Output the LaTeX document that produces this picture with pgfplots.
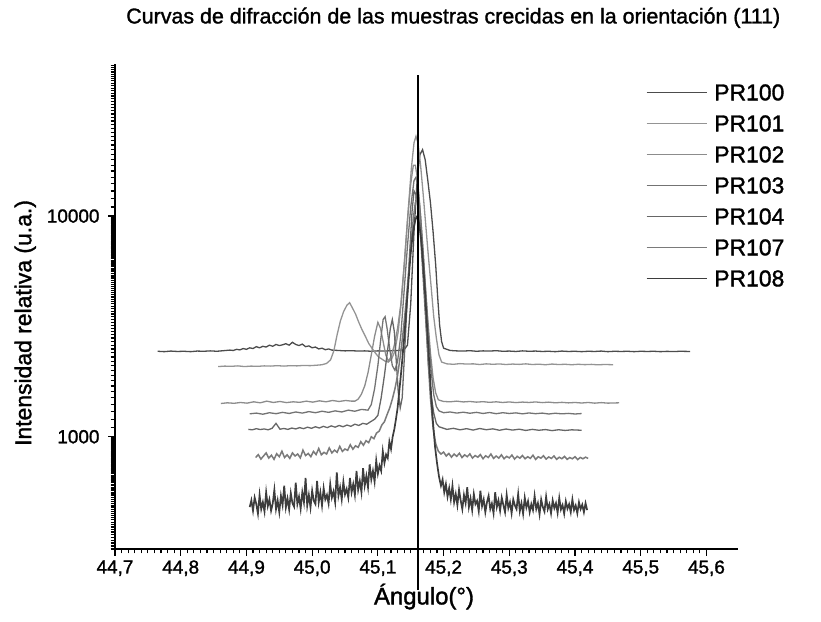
\documentclass[border=0pt]{standalone}
\usepackage{fontspec}
\setmainfont{Liberation Sans}[FakeBold=1.4]
\usepackage{pgfplots}
\usepackage{pgfplotstable}
\pgfplotsset{compat=1.18}

% Rocking curves, (111) oriented samples
\pgfplotstableread{
x y
44.765 2440
44.775 2430
44.785 2445
44.795 2435
44.805 2440
44.815 2430
44.825 2445
44.835 2440
44.845 2450
44.855 2440
44.865 2455
44.875 2470
44.880 2460
44.885 2490
44.890 2475
44.895 2510
44.900 2490
44.905 2530
44.910 2510
44.915 2560
44.920 2530
44.925 2570
44.930 2550
44.935 2600
44.940 2570
44.945 2620
44.950 2590
44.955 2610
44.960 2640
44.965 2600
44.970 2680
44.975 2620
44.980 2590
44.985 2630
44.990 2560
44.995 2580
45.000 2530
45.005 2550
45.010 2500
45.015 2520
45.020 2480
45.025 2500
45.030 2470
45.040 2460
45.050 2450
45.060 2455
45.070 2445
45.080 2450
45.090 2440
45.100 2450
45.110 2445
45.120 2455
45.130 2460
45.140 2480
45.145 2600
45.150 4000
45.155 8500
45.160 15000
45.164 19000
45.168 20000
45.172 18000
45.176 14500
45.180 11500
45.184 8500
45.188 6000
45.191 4300
45.194 3200
45.197 2700
45.200 2520
45.210 2460
45.220 2450
45.230 2445
45.240 2455
45.250 2440
45.260 2450
45.270 2445
45.280 2455
45.290 2440
45.300 2445
45.310 2435
45.320 2450
45.330 2440
45.340 2445
45.350 2435
45.360 2440
45.370 2430
45.380 2445
45.390 2435
45.400 2440
45.410 2430
45.420 2440
45.430 2435
45.440 2445
45.450 2430
45.460 2440
45.470 2435
45.480 2440
45.490 2430
45.500 2440
45.510 2435
45.520 2440
45.530 2430
45.540 2438
45.550 2432
45.560 2440
45.575 2435
}\prA

\pgfplotstableread{
x y
44.857 2080
44.867 2090
44.877 2085
44.887 2095
44.897 2080
44.907 2090
44.917 2085
44.927 2095
44.937 2090
44.947 2100
44.957 2090
44.967 2100
44.977 2095
44.987 2105
44.997 2100
45.007 2110
45.015 2120
45.022 2150
45.028 2230
45.033 2450
45.038 2900
45.043 3350
45.048 3700
45.053 3950
45.057 4050
45.061 3850
45.066 3600
45.071 3300
45.076 3050
45.081 2850
45.086 2650
45.091 2520
45.096 2400
45.101 2300
45.106 2250
45.111 2200
45.116 2180
45.121 2250
45.126 2450
45.131 3000
45.136 4200
45.141 6500
45.146 10500
45.151 16500
45.155 21500
45.158 23000
45.161 21500
45.165 17000
45.169 12500
45.173 9000
45.177 6500
45.181 4800
45.185 3500
45.189 2800
45.193 2350
45.197 2180
45.205 2140
45.215 2130
45.225 2145
45.235 2135
45.245 2140
45.255 2125
45.265 2140
45.275 2130
45.285 2138
45.295 2125
45.305 2135
45.315 2128
45.325 2140
45.335 2125
45.345 2132
45.355 2120
45.365 2135
45.375 2125
45.385 2130
45.395 2120
45.405 2130
45.415 2122
45.425 2128
45.435 2118
45.445 2126
45.458 2120
}\prB

\pgfplotstableread{
x y
44.861 1415
44.871 1425
44.881 1418
44.891 1430
44.901 1420
44.911 1440
44.921 1425
44.931 1450
44.941 1430
44.951 1445
44.961 1428
44.971 1440
44.981 1432
44.991 1450
45.001 1435
45.011 1455
45.021 1440
45.031 1460
45.041 1445
45.051 1460
45.060 1450
45.065 1450
45.070 1480
45.075 1560
45.080 1700
45.085 1950
45.090 2350
45.095 2850
45.100 3300
45.104 3100
45.108 2700
45.112 2350
45.116 2200
45.120 2300
45.125 2600
45.130 3100
45.135 4000
45.140 6000
45.145 9500
45.150 14000
45.154 17000
45.157 17000
45.160 15000
45.164 11000
45.168 7500
45.172 5000
45.176 3400
45.180 2400
45.184 1850
45.188 1580
45.192 1470
45.200 1445
45.210 1440
45.220 1450
45.230 1438
45.240 1445
45.250 1435
45.260 1442
45.270 1432
45.280 1440
45.290 1430
45.300 1438
45.310 1428
45.320 1436
45.330 1430
45.340 1438
45.350 1428
45.360 1435
45.370 1425
45.380 1432
45.390 1424
45.400 1430
45.410 1422
45.420 1430
45.430 1420
45.440 1428
45.450 1420
45.467 1425
}\prC

\pgfplotstableread{
x y
44.905 1270
44.915 1280
44.925 1265
44.935 1285
44.945 1272
44.955 1290
44.965 1275
44.975 1295
44.985 1280
44.995 1300
45.005 1285
45.015 1305
45.025 1290
45.035 1310
45.045 1295
45.055 1320
45.065 1305
45.075 1330
45.085 1320
45.090 1400
45.095 1650
45.100 2100
45.104 2700
45.108 3400
45.111 3500
45.114 3100
45.118 2500
45.122 2100
45.126 2000
45.130 2200
45.135 2900
45.140 4600
45.145 7300
45.150 11000
45.155 14500
45.158 15000
45.161 13500
45.165 10000
45.169 6800
45.173 4400
45.177 2900
45.181 2000
45.185 1550
45.189 1370
45.193 1310
45.200 1285
45.210 1295
45.220 1280
45.230 1292
45.240 1278
45.250 1290
45.260 1275
45.270 1288
45.280 1272
45.290 1285
45.300 1275
45.310 1283
45.320 1270
45.330 1282
45.340 1272
45.350 1280
45.360 1268
45.370 1278
45.380 1270
45.390 1276
45.400 1268
45.410 1274
}\prD

\pgfplotstableread{
x y
44.903 1080
44.909 1075
44.915 1088
44.921 1078
44.927 1085
44.933 1075
44.939 1092
44.945 1150
44.951 1082
44.957 1090
44.963 1080
44.969 1095
44.975 1085
44.981 1100
44.987 1088
44.993 1105
44.999 1092
45.005 1110
45.011 1095
45.017 1115
45.023 1100
45.029 1120
45.035 1105
45.041 1125
45.047 1110
45.053 1130
45.059 1115
45.065 1140
45.071 1125
45.077 1150
45.083 1140
45.089 1170
45.095 1200
45.100 1250
45.105 1500
45.110 1900
45.115 2500
45.119 3100
45.122 3400
45.125 3000
45.128 2200
45.131 1600
45.134 1350
45.137 1500
45.140 2200
45.144 3800
45.148 6500
45.152 10500
45.155 13000
45.158 12500
45.161 11000
45.165 8000
45.169 5200
45.173 3300
45.177 2100
45.181 1550
45.185 1280
45.189 1150
45.193 1110
45.199 1095
45.205 1080
45.215 1092
45.225 1075
45.235 1088
45.245 1072
45.255 1090
45.265 1076
45.275 1086
45.285 1070
45.295 1084
45.305 1072
45.315 1082
45.325 1068
45.335 1080
45.345 1070
45.355 1078
45.365 1066
45.375 1076
45.385 1068
45.395 1075
45.410 1070
}\prE

\pgfplotstableread{
x y
44.914 805
44.918 830
44.922 792
44.926 818
44.930 845
44.934 800
44.938 825
44.942 790
44.946 838
44.950 812
44.954 860
44.958 805
44.962 828
44.966 798
44.970 845
44.974 818
44.978 835
44.982 802
44.986 870
44.990 822
44.994 840
44.998 812
45.002 858
45.006 830
45.010 885
45.014 828
45.018 850
45.022 835
45.026 890
45.030 845
45.034 870
45.038 850
45.042 905
45.046 858
45.050 880
45.054 868
45.058 920
45.062 878
45.066 910
45.070 895
45.074 950
45.078 915
45.082 960
45.086 940
45.090 1000
45.094 980
45.098 1040
45.102 1060
45.106 1130
45.110 1170
45.114 1260
45.118 1350
45.122 1480
45.126 1650
45.130 1900
45.134 2300
45.138 2900
45.142 3800
45.146 5200
45.150 7200
45.154 9800
45.157 11500
45.160 12000
45.162 11000
45.165 8800
45.168 6500
45.171 4600
45.174 3100
45.177 2100
45.180 1500
45.184 1100
45.188 930
45.192 860
45.196 835
45.200 852
45.204 818
45.208 840
45.212 808
45.216 835
45.220 815
45.224 842
45.228 805
45.232 828
45.236 812
45.240 836
45.244 800
45.248 822
45.252 808
45.256 830
45.260 795
45.264 820
45.268 805
45.272 835
45.276 798
45.280 818
45.284 800
45.288 828
45.292 795
45.296 815
45.300 802
45.304 826
45.308 792
45.312 815
45.316 800
45.320 822
45.324 795
45.328 812
45.332 798
45.336 825
45.340 790
45.344 812
45.348 800
45.352 820
45.356 792
45.360 810
45.364 798
45.368 818
45.372 790
45.376 808
45.380 795
45.384 815
45.388 790
45.392 805
45.396 795
45.400 812
45.404 788
45.408 806
45.412 795
45.416 808
45.420 798
}\prF

\pgfplotstableread{
x y
44.9050 480
44.9075 515
44.9100 462
44.9125 530
44.9150 495
44.9175 448
44.9200 545
44.9225 470
44.9250 505
44.9275 458
44.9300 560
44.9325 485
44.9350 520
44.9375 462
44.9400 498
44.9425 575
44.9450 470
44.9475 515
44.9500 455
44.9525 540
44.9550 490
44.9575 600
44.9600 478
44.9625 525
44.9650 468
44.9675 555
44.9700 500
44.9725 482
44.9750 620
44.9775 495
44.9800 535
44.9825 472
44.9850 560
44.9875 505
44.9900 650
44.9925 488
44.9950 545
44.9975 478
45.0000 570
45.0025 512
45.0050 495
45.0075 630
45.0100 505
45.0125 560
45.0150 488
45.0175 585
45.0200 520
45.0225 545
45.0250 498
45.0275 610
45.0300 530
45.0325 565
45.0350 505
45.0375 690
45.0400 540
45.0425 590
45.0450 520
45.0475 625
45.0500 548
45.0525 580
45.0550 530
45.0575 650
45.0600 560
45.0625 610
45.0650 545
45.0675 700
45.0700 575
45.0725 630
45.0750 560
45.0775 720
45.0800 600
45.0825 665
45.0850 590
45.0875 750
45.0900 640
45.0925 700
45.0950 625
45.0975 780
45.1000 680
45.1025 740
45.1050 700
45.1075 860
45.1100 760
45.1125 830
45.1150 800
45.1175 950
45.1200 880
45.1225 1000
45.1250 1080
45.1275 1200
45.1300 1350
45.1325 1600
45.1350 1900
45.1375 2300
45.1400 2800
45.1425 3500
45.1450 4400
45.1475 5500
45.1500 6800
45.1525 8000
45.1550 9000
45.1575 9700
45.1600 10000
45.1630 9200
45.1660 7800
45.1690 6000
45.1720 4400
45.1750 3100
45.1780 2200
45.1810 1550
45.1840 1150
45.1870 900
45.1900 760
45.1930 660
45.1960 600
45.1985 640
45.2010 560
45.2035 610
45.2060 535
45.2085 585
45.2110 520
45.2135 600
45.2160 505
45.2185 550
45.2210 490
45.2235 575
45.2260 515
45.2285 470
45.2310 545
45.2335 500
45.2360 590
45.2385 480
45.2410 525
45.2435 465
45.2460 550
45.2485 495
45.2510 512
45.2535 460
45.2560 570
45.2585 485
45.2610 520
45.2635 455
45.2660 505
45.2685 540
45.2710 470
45.2735 498
45.2760 450
45.2785 560
45.2810 480
45.2835 515
45.2860 462
45.2885 530
45.2910 490
45.2935 455
45.2960 545
45.2985 475
45.3010 505
45.3035 450
45.3060 520
45.3085 488
45.3110 470
45.3135 550
45.3160 460
45.3185 500
45.3210 448
45.3235 530
45.3260 478
45.3285 510
45.3310 455
45.3335 495
45.3360 465
45.3385 540
45.3410 470
45.3435 500
45.3460 445
45.3485 520
45.3510 480
45.3535 458
45.3560 535
45.3585 470
45.3610 495
45.3635 450
45.3660 515
45.3685 475
45.3710 500
45.3735 452
45.3760 528
45.3785 468
45.3810 490
45.3835 448
45.3860 510
45.3885 472
45.3910 495
45.3935 455
45.3960 520
45.3985 465
45.4010 488
45.4035 450
45.4060 505
45.4085 470
45.4110 492
45.4135 455
45.4160 500
45.4185 465
}\prG

\begin{document}
\begin{tikzpicture}
\path[use as bounding box] (-115bp,-73bp) rectangle (706bp,549bp);
\begin{axis}[
  at={(0,0)}, anchor=south west,
  scale only axis, width=623bp, height=485bp,
  xmin=44.7, xmax=45.648,
  ymode=log, ymin=310, ymax=48900,
  axis lines*=left,
  axis line style={line width=2.3bp, black},
  clip=false,
  tick align=outside,
  xtick={44.7,44.8,44.9,45.0,45.1,45.2,45.3,45.4,45.5,45.6},
  xticklabels={{44,7},{44,8},{44,9},{45,0},{45,1},{45,2},{45,3},{45,4},{45,5},{45,6}},
  minor x tick num=9,
  ytick={1000,10000},
  yticklabels={1000,10000},
  minor ytick={310,320,...,990,1100,1200,...,9900,11000,12000,13000,14000,15000,16000,17000,18000,19000,20000,21000,22000,23000,24000,25000,26000,27000,28000,29000,30000,31000,32000,33000,34000,35000,36000,37000,38000,39000,40000,41000,42000,43000,44000,45000,46000,47000,48000},
  major tick length=7bp, minor tick length=4.5bp,
  every tick/.style={black, line width=1.2bp},
  tick label style={font=\fontsize{19}{19}\selectfont},
  xticklabel style={yshift=-1bp},
  yticklabel style={xshift=-5bp},
  xlabel={Ángulo(°)},
  ylabel={Intensidad relativa (u.a.)},
  xlabel style={at={(0.496,-0.098)}, anchor=center, font=\fontsize{24}{24}\selectfont},
  ylabel style={at={(-0.144,0.466)}, anchor=center, font=\fontsize{23}{23}\selectfont},
  title={Curvas de difracción de las muestras crecidas en la orientación (111)},
  title style={at={(0.543,1.083)}, anchor=center, font=\fontsize{21.5}{21.5}\selectfont},
  legend style={at={(0.8475,0.978)}, anchor=north west, draw=none, fill=none,
    font=\fontsize{23}{23}\selectfont, row sep=0bp,
    nodes={inner sep=1bp, text height=16bp, text depth=0bp, minimum height=31bp},
    /tikz/every odd column/.append style={column sep=6bp}},
  legend cell align=left,
  legend image code/.code={\draw[#1, line width=1.1bp] (0bp,0bp) -- (60bp,0bp);},
]
\addplot[color=black!70, line width=1.3bp] table {\prA};
\addlegendentry{PR100}
\addplot[color=black!42, line width=1.3bp] table {\prB};
\addlegendentry{PR101}
\addplot[color=black!45, line width=1.3bp] table {\prC};
\addlegendentry{PR102}
\addplot[color=black!55, line width=1.3bp] table {\prD};
\addlegendentry{PR103}
\addplot[color=black!60, line width=1.3bp] table {\prE};
\addlegendentry{PR104}
\addplot[color=black!52, line width=1.5bp] table {\prF};
\addlegendentry{PR107}
\addplot[color=black!76, line width=1.7bp] table {\prG};
\addlegendentry{PR108}
% reference line at the substrate peak position
\addplot[black, line width=1.5bp, forget plot] coordinates {(45.161,202) (45.161,43500)};
\end{axis}
\end{tikzpicture}
\end{document}
